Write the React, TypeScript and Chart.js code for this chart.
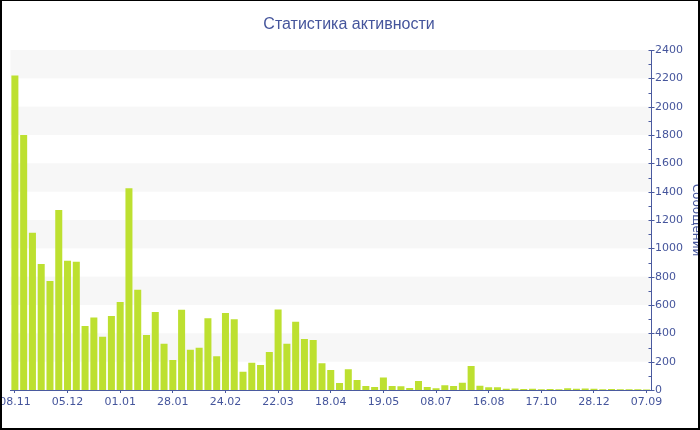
import React, { useEffect, useRef } from 'react';
import { Chart, registerables } from 'chart.js';

Chart.register(...registerables);

const titleText = 'Статистика активности';
const axisTitle = 'Сообщений';

const tickLabels = ['08.11', '05.12', '01.01', '28.01', '24.02', '22.03', '18.04', '19.05', '08.07', '16.08', '17.10', '28.12', '07.09'];

const messages = [
  2220, 1800, 1110, 889, 769, 1271, 913, 906, 452, 511, 376, 522, 621, 1424, 708, 388, 551, 327, 212, 567,
  285, 299, 506, 238, 544, 499, 129, 193, 176, 268, 569, 327, 482, 360, 353, 188, 141, 49, 146, 71,
  28, 21, 89, 28, 26, 14, 64, 21, 12, 33, 28, 52, 169, 30, 19, 19, 9, 11, 7, 8,
  6, 7, 6, 12, 9, 10, 8, 6, 7, 6, 5, 6, 4,
];

const labelEvery = 6;
const yMax = 2400;
const yStep = 200;

const categories = messages.map((_, i) => (i % labelEvery === 0 ? tickLabels[i / labelEvery] : ''));

const BLUE = '#4a5a9f';
const TEXT = '#45559c';
const BAND = '#f7f7f7';
const BAR = '#bde030';

const decorPlugin = {
  id: 'decor',
  beforeDatasetsDraw(chart: any) {
    const { ctx, chartArea, scales } = chart;
    const y = scales.y;
    ctx.save();
    ctx.fillStyle = BAND;
    for (let v = yMax; v > 0; v -= 2 * yStep) {
      const y1 = y.getPixelForValue(v);
      const y2 = y.getPixelForValue(v - yStep);
      ctx.fillRect(chartArea.left, y1, chartArea.right - chartArea.left, y2 - y1);
    }
    ctx.restore();
  },
  afterDraw(chart: any) {
    const { ctx, chartArea, scales } = chart;
    const y = scales.y;
    const x0 = Math.round(chartArea.right) + 0.5;
    ctx.save();
    ctx.strokeStyle = BLUE;
    ctx.lineWidth = 1;
    ctx.beginPath();
    for (let v = 0; v <= yMax; v += yStep / 2) {
      const py = Math.round(y.getPixelForValue(v)) + 0.5;
      const major = v % yStep === 0;
      ctx.moveTo(x0 - 3, py);
      ctx.lineTo(major ? x0 + 3 : x0, py);
    }
    ctx.stroke();
    ctx.restore();
  },
};

export default function App() {
  const canvasRef = useRef<HTMLCanvasElement | null>(null);

  useEffect(() => {
    document.body.style.margin = '0';
    const canvas = canvasRef.current;
    if (!canvas) return;
    const chart = new Chart(canvas, {
      type: 'bar',
      data: {
        labels: categories,
        datasets: [
          {
            label: axisTitle,
            data: messages,
            backgroundColor: BAR,
            borderWidth: 0,
            categoryPercentage: 1,
            barPercentage: 0.8,
          },
        ],
      },
      plugins: [decorPlugin],
      options: {
        animation: false,
        responsive: true,
        maintainAspectRatio: false,
        layout: { padding: { left: 0, right: 6, top: 0, bottom: 0 } },
        plugins: {
          legend: { display: false },
          tooltip: { enabled: false },
          title: {
            display: true,
            text: titleText,
            color: TEXT,
            font: { family: '"Liberation Sans", Arial, sans-serif', size: 16, weight: 'normal' },
            padding: { top: 14.4, bottom: 15.4 },
          },
        },
        scales: {
          x: {
            type: 'category',
            offset: true,
            grid: {
              display: true,
              offset: false,
              drawOnChartArea: false,
              drawTicks: true,
              tickLength: 3,
              color: BLUE,
            },
            border: { display: true, color: BLUE },
            ticks: {
              autoSkip: false,
              maxRotation: 0,
              minRotation: 0,
              padding: 3,
              color: TEXT,
              font: { family: '"DejaVu Sans", Verdana, sans-serif', size: 11 },
            },
            afterBuildTicks: (scale: any) => {
              scale.ticks = scale.ticks.filter((t: any) => t.value % labelEvery === 0);
            },
            afterFit: (scale: any) => {
              scale.paddingLeft = 8.5;
              scale.paddingRight = 0;
              scale.height = 38;
            },
          },
          y: {
            position: 'right',
            min: 0,
            max: yMax,
            grid: { display: false, drawTicks: false },
            border: { display: true, color: BLUE },
            ticks: {
              stepSize: yStep,
              padding: 4,
              color: TEXT,
              font: { family: '"DejaVu Sans", Verdana, sans-serif', size: 11 },
              callback: (v: any) => String(v),
            },
            title: {
              display: true,
              text: axisTitle,
              color: TEXT,
              padding: { top: -7.2, bottom: 0 },
              font: { family: '"DejaVu Sans", Verdana, sans-serif', size: 12 },
            },
            afterFit: (scale: any) => {
              scale.width = 45;
            },
          },
        },
      },
    });
    return () => chart.destroy();
  }, []);

  return (
    <div
      style={{
        position: 'relative',
        width: 700,
        height: 430,
        boxSizing: 'border-box',
        borderTop: '1px solid #000',
        borderLeft: '2px solid #000',
        borderRight: '2px solid #000',
        borderBottom: '2px solid #000',
        overflow: 'hidden',
        background: '#fff',
      }}
    >
      <div style={{ position: 'absolute', left: 0, top: 0, width: 700, height: 427 }}>
        <canvas ref={canvasRef} />
      </div>
    </div>
  );
}
